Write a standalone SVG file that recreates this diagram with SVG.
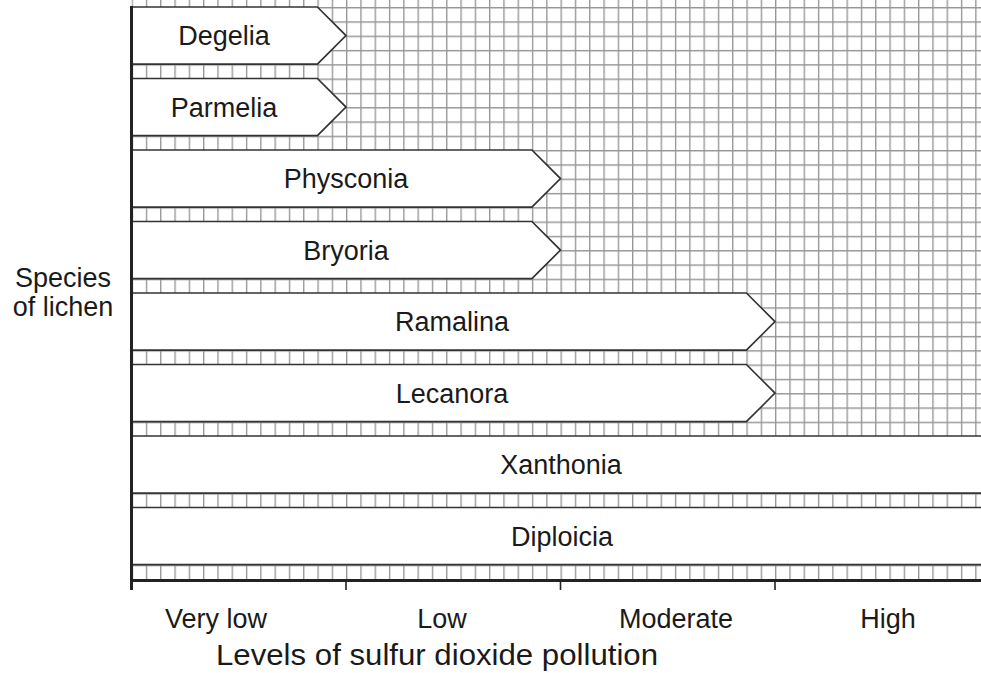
<svg xmlns="http://www.w3.org/2000/svg" width="981" height="673" viewBox="0 0 981 673">
  <style>
    .bar { fill: #ffffff; stroke: #333333; stroke-width: 1.7; stroke-linejoin: miter; }
    .lbl { font-family: "Liberation Sans", Arial, sans-serif; font-size: 27px; fill: #1a1a1a; text-anchor: middle; }
    .axis { stroke: #222222; stroke-width: 3; fill: none; }
    .tick { stroke: #222222; stroke-width: 1.6; }
  </style>
  <defs>
    <!-- 14.3 px graph-paper cell -->
    <pattern id="grid" patternUnits="userSpaceOnUse" x="131.5" y="7" width="14.3" height="14.3">
      <rect x="0" y="0" width="14.3" height="14.3" fill="#ffffff"/>
      <path d="M0.65 0 V14.3 M0 0.65 H14.3" stroke="#969696" stroke-width="1.4" fill="none"/>
    </pattern>
  </defs>

  <rect x="0" y="0" width="981" height="673" fill="#ffffff"/>

  <!-- background grid -->
  <rect x="131.5" y="0" width="849.5" height="580" fill="url(#grid)"/>

  <!-- species bars -->
  <g id="degelia">
    <path class="bar" d="M131.5 7 H317.4 L346 35.6 L317.4 64.2 H131.5 Z"/>
    <text class="lbl" x="224" y="45">Degelia</text>
  </g>
  <g id="parmelia">
    <path class="bar" d="M131.5 78.5 H317.4 L346 107.1 L317.4 135.7 H131.5 Z"/>
    <text class="lbl" x="224" y="117">Parmelia</text>
  </g>
  <g id="physconia">
    <path class="bar" d="M131.5 150 H531.9 L560.5 178.6 L531.9 207.2 H131.5 Z"/>
    <text class="lbl" x="346" y="188">Physconia</text>
  </g>
  <g id="bryoria">
    <path class="bar" d="M131.5 221.5 H531.9 L560.5 250.1 L531.9 278.7 H131.5 Z"/>
    <text class="lbl" x="346" y="260">Bryoria</text>
  </g>
  <g id="ramalina">
    <path class="bar" d="M131.5 293 H746.4 L775 321.6 L746.4 350.2 H131.5 Z"/>
    <text class="lbl" x="452" y="331">Ramalina</text>
  </g>
  <g id="lecanora">
    <path class="bar" d="M131.5 364.5 H746.4 L775 393.1 L746.4 421.7 H131.5 Z"/>
    <text class="lbl" x="452" y="403">Lecanora</text>
  </g>
  <g id="xanthonia">
    <rect x="131.5" y="436" width="860" height="57.2" fill="#ffffff"/>
    <path class="bar" d="M990 436 H131.5 V493.2 H990"/>
    <text class="lbl" x="561" y="474">Xanthonia</text>
  </g>
  <g id="diploicia">
    <rect x="131.5" y="507.5" width="860" height="57.2" fill="#ffffff"/>
    <path class="bar" d="M990 507.5 H131.5 V564.7 H990"/>
    <text class="lbl" x="562" y="546">Diploicia</text>
  </g>

  <!-- axes and ticks -->
  <g id="axes">
    <path class="axis" d="M131.5 6 V590"/>
    <path class="axis" d="M130 580.5 H981"/>
    <path class="tick" d="M346 580 V590 M560.5 580 V590 M775 580 V590"/>
  </g>

  <!-- axis labels -->
  <g id="labels">
    <text class="lbl" x="63" y="287">Species</text>
    <text class="lbl" x="63" y="316">of lichen</text>
    <text class="lbl" x="216" y="628">Very low</text>
    <text class="lbl" x="442" y="628">Low</text>
    <text class="lbl" x="676" y="628">Moderate</text>
    <text class="lbl" x="888" y="628">High</text>
    <text class="lbl" x="437" y="665" style="font-size:29px" textLength="442" lengthAdjust="spacingAndGlyphs">Levels of sulfur dioxide pollution</text>
  </g>
</svg>
